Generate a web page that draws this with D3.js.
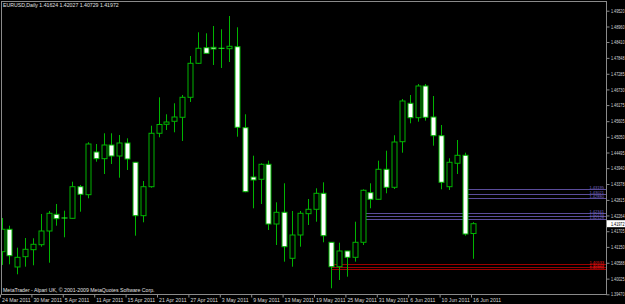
<!DOCTYPE html>
<html>
<head>
<meta charset="utf-8">
<script src="https://cdn.jsdelivr.net/npm/d3@7"></script>
<style>
  body { margin: 0; background: #000; }
  svg { display: block; }
  text { font-family: "Liberation Sans", Arial, sans-serif; }
</style>
</head>
<body>
<svg id="chart" width="625" height="304"></svg>
<script>
// EURUSD daily bars, 24 Mar 2011 .. 16 Jun 2011
var opens = [1.40980,1.41774,1.40438,1.40803,1.41051,1.41228,1.41713,1.42305,1.42174,1.42163,
    1.43283,1.43000,1.44513,1.44276,1.44761,1.44371,1.44832,1.44148,1.42256,1.43283,
    1.45176,1.45495,1.45601,1.45743,1.46451,1.47656,1.48209,1.48223,1.48188,1.48173,
    1.48244,1.45374,1.43627,1.43546,1.44077,1.41961,1.42376,1.40746,1.41572,1.42327,
    1.42482,1.43049,1.41313,1.40448,1.41005,1.40781,1.41313,1.43071,1.42837,1.43900,
    1.43262,1.44878,1.46239,1.45728,1.46852,1.45753,1.45091,1.43283,1.44113,1.44396,
    1.41624];
var highs = [1.42174,1.41901,1.41122,1.41465,1.41455,1.42316,1.42422,1.42670,1.42433,1.43460,
    1.43344,1.44857,1.44796,1.45176,1.45176,1.45115,1.44998,1.44160,1.43485,1.45445,
    1.46451,1.45849,1.46239,1.46533,1.47915,1.48755,1.48719,1.48978,1.48861,1.49332,
    1.48932,1.45849,1.44382,1.44113,1.44205,1.42730,1.43404,1.42422,1.42422,1.42847,
    1.43227,1.43439,1.41320,1.41299,1.41010,1.42043,1.43191,1.43404,1.44205,1.44559,
    1.45105,1.46391,1.46533,1.46923,1.46923,1.46497,1.45470,1.44290,1.44938,1.44488,
    1.42027];
var lows = [1.40509,1.40533,1.40179,1.40448,1.40498,1.41157,1.40590,1.41901,1.41490,1.42149,
    1.42397,1.42872,1.44169,1.43733,1.44088,1.43602,1.43875,1.41547,1.42022,1.43248,
    1.45034,1.45293,1.45211,1.44903,1.46285,1.47640,1.48010,1.47596,1.47490,1.47702,
    1.45055,1.43085,1.42518,1.42670,1.41749,1.41217,1.40626,1.40448,1.41157,1.41926,
    1.42043,1.41313,1.39683,1.39977,1.40094,1.40626,1.41217,1.42518,1.42830,1.43049,
    1.43202,1.44488,1.45530,1.45587,1.45622,1.44736,1.43191,1.43166,1.43733,1.41547,
    1.40729];
var closes = [1.41774,1.40838,1.40781,1.41065,1.41242,1.41713,1.42341,1.42149,1.42174,1.43283,
    1.43014,1.44796,1.44276,1.44761,1.44371,1.44832,1.44265,1.42256,1.43283,1.45176,
    1.45487,1.45576,1.45753,1.46451,1.47656,1.48188,1.48010,1.48163,1.48188,1.48259,
    1.45388,1.43106,1.43521,1.44077,1.41961,1.42376,1.41157,1.41572,1.42341,1.42482,
    1.43049,1.41547,1.40448,1.41005,1.40781,1.41313,1.43156,1.42837,1.43900,1.43262,
    1.44867,1.46320,1.45728,1.46852,1.45743,1.45091,1.43439,1.44148,1.44396,1.41607,
    1.41972];

var dateLabels = ["24 Mar 2011","30 Mar 2011","5 Apr 2011","11 Apr 2011","15 Apr 2011",
    "21 Apr 2011","27 Apr 2011","3 May 2011","9 May 2011","13 May 2011","19 May 2011",
    "25 May 2011","31 May 2011","6 Jun 2011","10 Jun 2011","16 Jun 2011"];
var priceTicks = [1.49520,1.48960,1.48410,1.47848,1.47285,1.46730,1.46175,1.45605,1.45050,
    1.44495,1.43940,1.43378,1.42815,1.42264,1.41705,1.41150,1.40588,1.40025,1.39470];

// horizontal levels and the bar each one starts from
var upperLevels = [1.43195,1.43021,1.42880];
var lowerLevels = [1.42341,1.42234,1.42128];
var redLevels = [1.40533,1.40449,1.40356];
var upperFrom = 59, lowerFrom = 46, redFrom = 42;

var title = "EURUSD,Daily  1.41624 1.42027 1.40729 1.41972";
var footer = "MetaTrader - Alpari UK, \u00a9 2001-2009 MetaQuotes Software Corp.";

var LEFT = 1, RIGHT = 606, TOP = 1, BOTTOM = 294.5;
var FONT = 5.2;
var GRID = "#8a8a8a";
var CANDLE = "#00b400";

var svg = d3.select("#chart");

var x = d3.scaleLinear().domain([0, 60]).range([1.5, 472.5]);
var y = d3.scaleLinear().domain([1.39470, 1.49520]).range([294.3, 10.7]);

var bars = d3.range(opens.length).map(function(i) {
    return {i: i, o: opens[i], h: highs[i], l: lows[i], c: closes[i]};
});

var plot = svg.append("g");
plot.append("defs").append("clipPath").attr("id", "clip")
    .append("rect").attr("x", LEFT).attr("y", TOP)
    .attr("width", RIGHT - LEFT).attr("height", BOTTOM - TOP);
var inner = plot.append("g").attr("clip-path", "url(#clip)");

// level lines
var drawLevels = function(levels, from, color, labelColor) {
    var g = inner.append("g");
    g.selectAll("line").data(levels).enter().append("line")
        .attr("x1", x(from)).attr("x2", RIGHT)
        .attr("y1", function(d) { return Math.round(y(d)) + 0.5; })
        .attr("y2", function(d) { return Math.round(y(d)) + 0.5; })
        .attr("stroke", color).attr("stroke-width", 1);
    g.selectAll("text").data(levels).enter().append("text")
        .attr("x", RIGHT - 2)
        .attr("y", function(d) { return Math.round(y(d)) - 0.2; })
        .attr("text-anchor", "end")
        .attr("font-size", 4.4)
        .attr("textLength", 14.5)
        .attr("lengthAdjust", "spacingAndGlyphs")
        .attr("fill", labelColor)
        .text(function(d) { return d.toFixed(5); });
}
drawLevels(upperLevels, upperFrom, "#5a4c9a", "#7d6cc8");
drawLevels(lowerLevels, lowerFrom, "#5a4c9a", "#7d6cc8");
drawLevels(redLevels, redFrom, "#9a0000", "#ff1a1a");

// candles
var cg = inner.append("g");
cg.selectAll("line.wick").data(bars).enter().append("line")
    .attr("class", "wick")
    .attr("x1", function(d) { return Math.round(x(d.i)) + 0.5; })
    .attr("x2", function(d) { return Math.round(x(d.i)) + 0.5; })
    .attr("y1", function(d) { return y(d.h); })
    .attr("y2", function(d) { return y(d.l); })
    .attr("stroke", CANDLE).attr("stroke-width", 1);

var bodies = bars.filter(function(d) { return Math.abs(d.o - d.c) > 0.00005; });
cg.selectAll("rect.body").data(bodies).enter().append("rect")
    .attr("class", "body")
    .attr("x", function(d) { return Math.round(x(d.i)) - 2; })
    .attr("y", function(d) { return y(Math.max(d.o, d.c)); })
    .attr("width", 5)
    .attr("height", function(d) { return Math.max(1, y(Math.min(d.o, d.c)) - y(Math.max(d.o, d.c))); })
    .attr("fill", function(d) { return d.c < d.o ? "#ffffff" : "#000000"; })
    .attr("stroke", CANDLE).attr("stroke-width", 1);

var dojis = bars.filter(function(d) { return Math.abs(d.o - d.c) <= 0.00005; });
cg.selectAll("line.doji").data(dojis).enter().append("line")
    .attr("class", "doji")
    .attr("x1", function(d) { return Math.round(x(d.i)) - 2.5; })
    .attr("x2", function(d) { return Math.round(x(d.i)) + 3.5; })
    .attr("y1", function(d) { return y(d.c); })
    .attr("y2", function(d) { return y(d.c); })
    .attr("stroke", "#20ff20").attr("stroke-width", 1);

// frame
svg.append("rect")
    .attr("x", LEFT + 0.5).attr("y", TOP + 0.5)
    .attr("width", RIGHT - LEFT).attr("height", BOTTOM - TOP - 0.5)
    .attr("fill", "none").attr("stroke", GRID).attr("stroke-width", 1);

// price axis
var yAxis = d3.axisRight(y)
    .tickValues(priceTicks)
    .tickSize(3)
    .tickPadding(1.5)
    .tickFormat(d3.format(".5f"));
var ya = svg.append("g").attr("transform", "translate(" + (RIGHT + 0.5) + ",0)").call(yAxis);
ya.select(".domain").remove();
ya.selectAll("line").attr("stroke", GRID);
ya.selectAll("text").attr("fill", "#d8d8d8").attr("font-size", 5)
    .attr("textLength", 13.5)
    .attr("lengthAdjust", "spacingAndGlyphs")
    .attr("font-family", "Liberation Sans, Arial, sans-serif");

// current price marker
var last = closes[closes.length - 1];
svg.append("rect")
    .attr("x", RIGHT + 1).attr("y", y(last) - 3.5)
    .attr("width", 625 - RIGHT - 1).attr("height", 7)
    .attr("fill", "#ffffff");
svg.append("text")
    .attr("x", RIGHT + 5).attr("y", y(last) + 2)
    .attr("font-size", 5).attr("fill", "#000")
    .attr("textLength", 13.5)
    .attr("lengthAdjust", "spacingAndGlyphs")
    .text(last.toFixed(5));

// date axis
var xAxis = d3.axisBottom(x)
    .tickValues(d3.range(dateLabels.length).map(function(k) { return k * 4; }))
    .tickSize(3)
    .tickFormat(function(d, k) { return dateLabels[k]; });
var xa = svg.append("g").attr("transform", "translate(-1.5," + BOTTOM + ")").call(xAxis);
xa.select(".domain").remove();
xa.selectAll("line").attr("stroke", GRID);
xa.selectAll("text")
    .attr("text-anchor", "start")
    .attr("dx", 1.5)
    .attr("y", 3.5)
    .attr("font-size", FONT)
    .attr("fill", "#d8d8d8")
    .attr("font-family", "Liberation Sans, Arial, sans-serif");

// labels
svg.append("text").attr("x", 3).attr("y", 7.2)
    .attr("font-size", FONT).attr("fill", "#e0e0e0").text(title);
svg.append("text").attr("x", 3).attr("y", 292)
    .attr("font-size", FONT).attr("fill", "#e0e0e0").text(footer);
</script>
</body>
</html>
